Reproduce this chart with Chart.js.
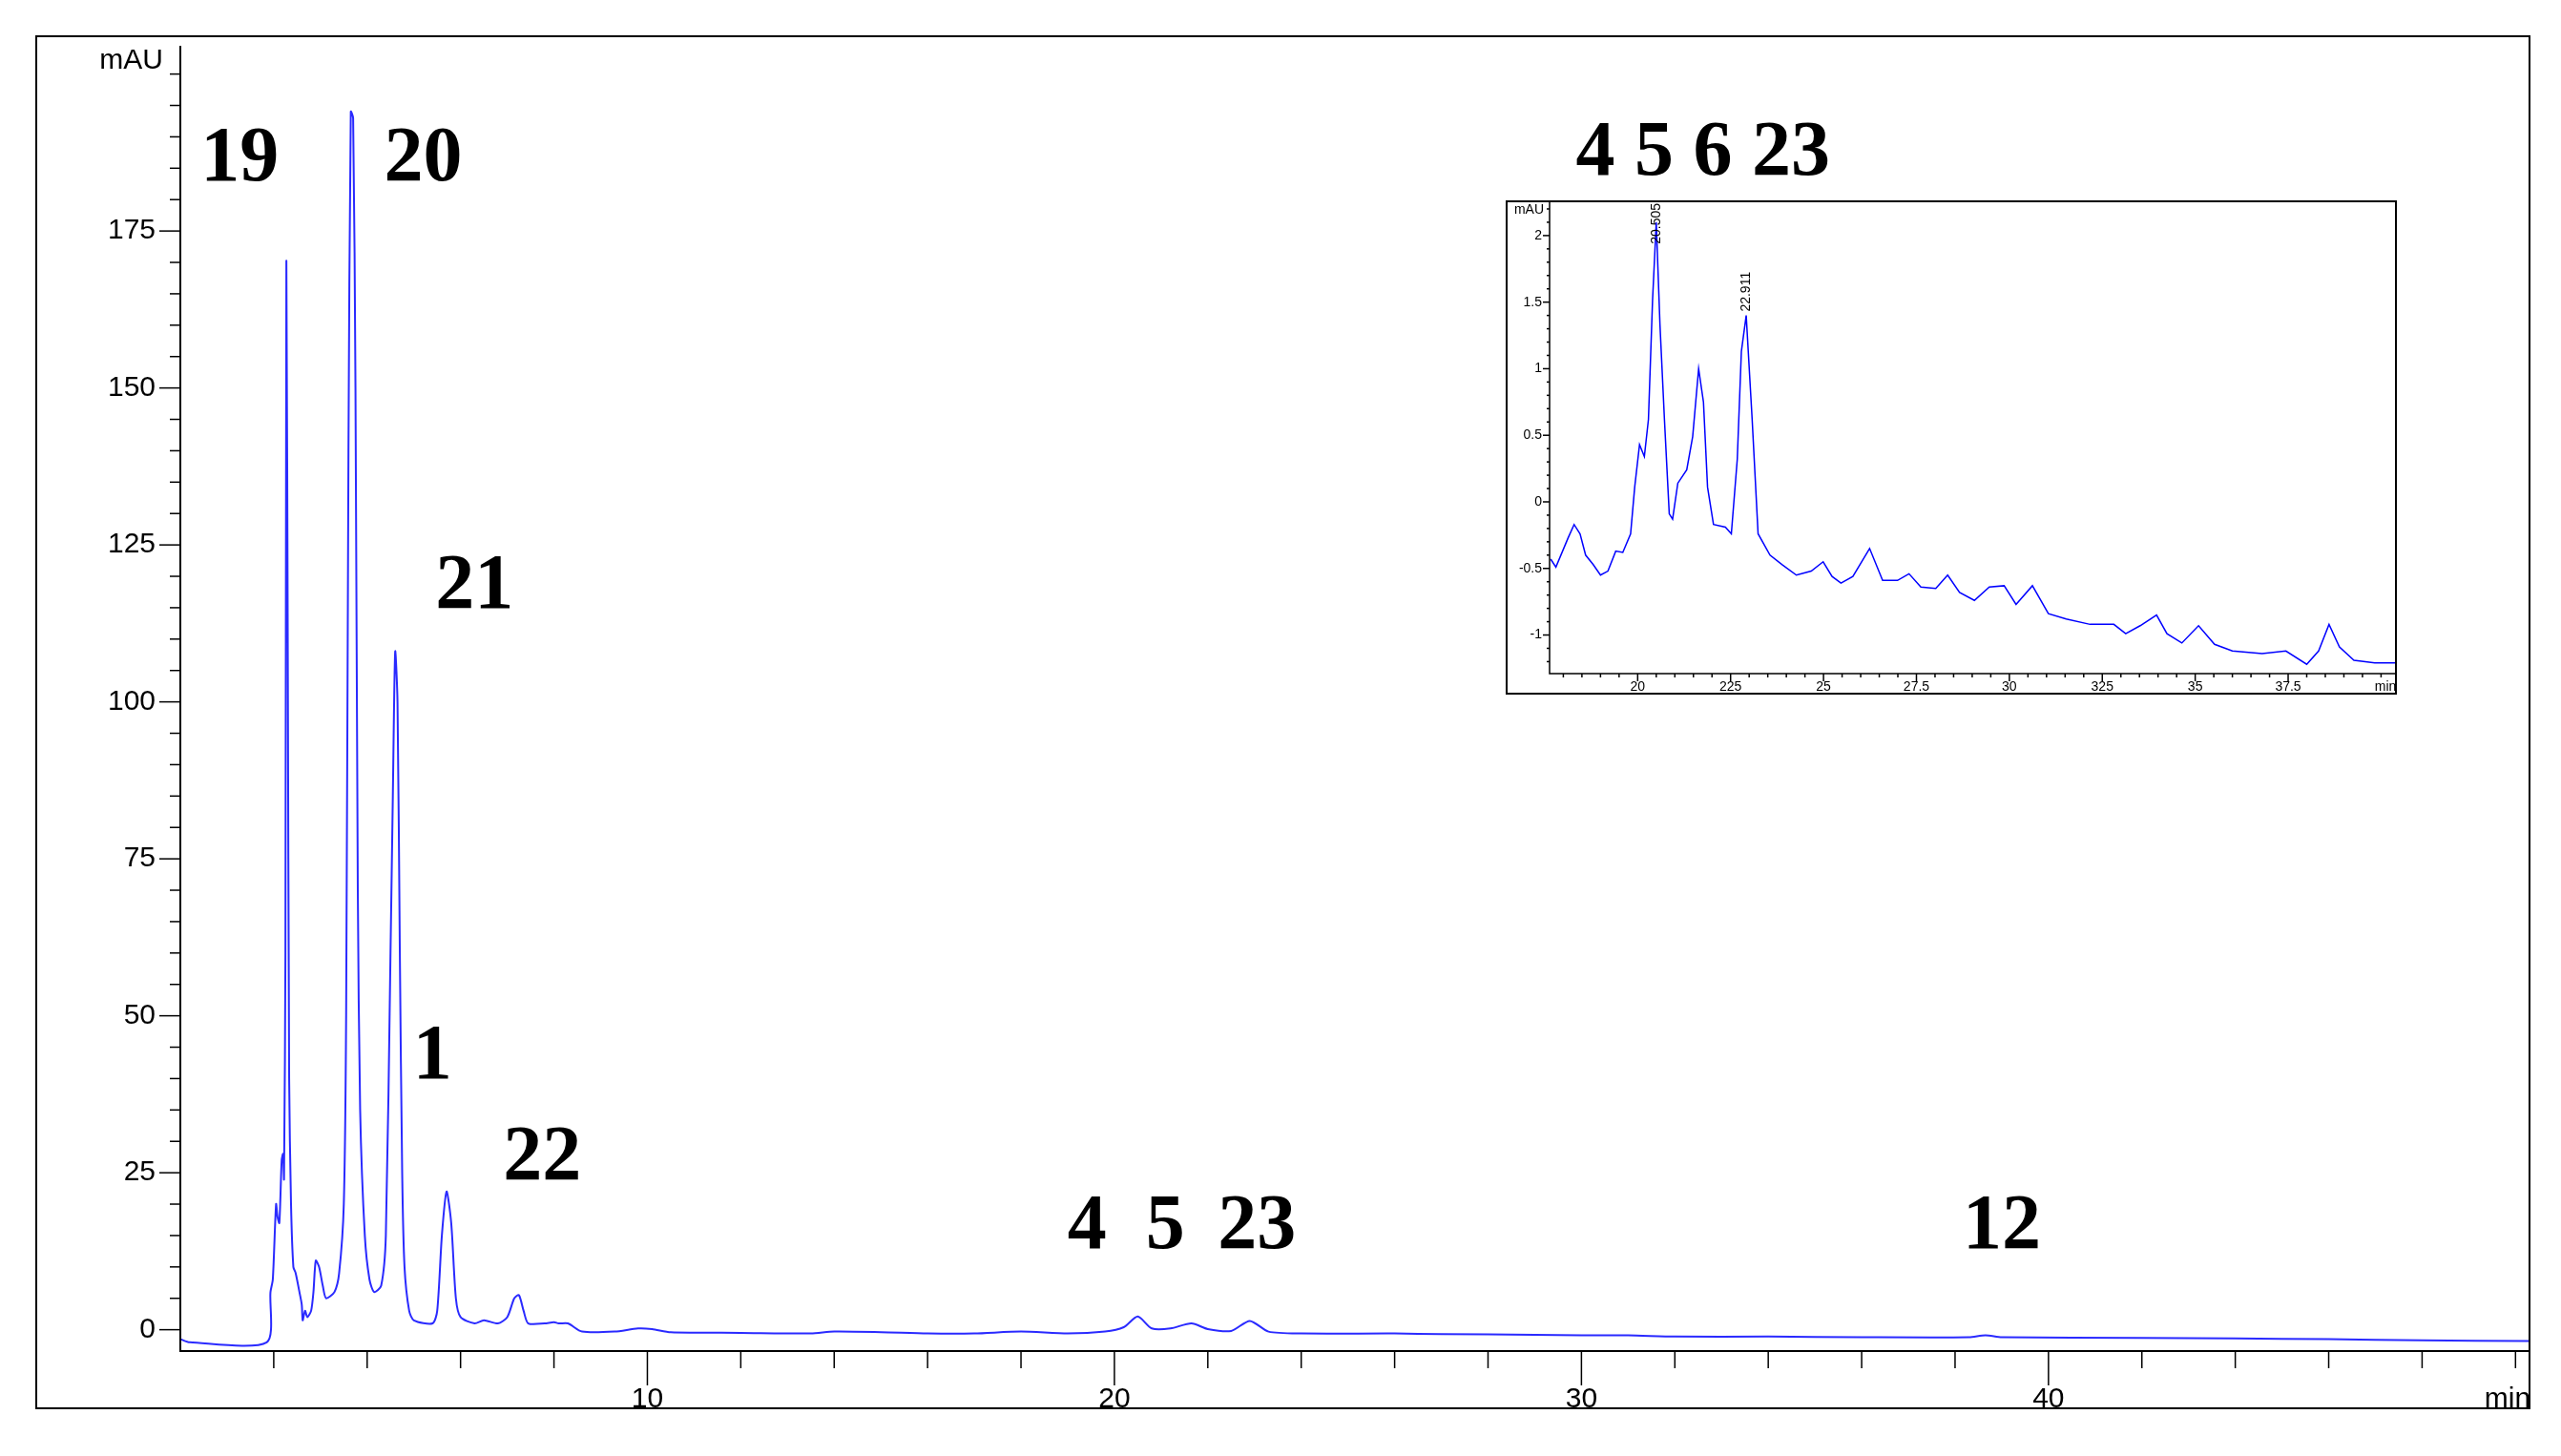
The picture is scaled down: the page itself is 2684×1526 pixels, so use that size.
<!DOCTYPE html>
<html>
<head>
<meta charset="utf-8">
<script src="https://cdn.jsdelivr.net/npm/chart.js@4.4.0/dist/chart.umd.min.js"></script>
<style>
  html, body { margin: 0; padding: 0; background: #fff; }
  #wrap { position: relative; width: 2684px; height: 1526px; }
  #main { position: absolute; left: 0; top: 0; }
  #inset { position: absolute; left: 1578px; top: 210px; background: #fff; }
</style>
</head>
<body>
<div id="wrap">
  <canvas id="main" width="2684" height="1526"></canvas>
  <canvas id="inset" width="934" height="518"></canvas>
</div>
<script>
// main chromatogram (min, mAU)
var mainTimes = [0, 0.2, 1.85, 1.93, 1.98, 2.05, 2.08, 2.12, 2.17, 2.2, 2.22, 2.25, 2.27, 2.3, 2.33, 2.37, 2.42, 2.47, 2.55, 2.6, 2.62, 2.67, 2.72, 2.8, 2.85, 2.9, 2.97, 3.05, 3.12, 3.3, 3.4, 3.5, 3.55, 3.6, 3.65, 3.7, 3.75, 3.8, 3.85, 3.95, 4.05, 4.15, 4.3, 4.4, 4.5, 4.55, 4.6, 4.65, 4.7, 4.75, 4.8, 4.9, 5.0, 5.4, 5.5, 5.6, 5.7, 5.8, 5.9, 6.0, 6.3, 6.5, 6.8, 7.0, 7.15, 7.25, 7.35, 7.45, 7.8, 8.0, 8.1, 8.3, 8.6, 9.3, 9.8, 10.1, 10.5, 12, 13.5, 14, 15, 16, 17, 18, 19, 19.8, 20.2, 20.5, 20.8, 21.2, 21.65, 22.0, 22.5, 22.9, 23.3, 24, 26, 27, 29, 30, 31, 32, 34, 36, 38.3, 38.65, 39, 42, 44, 46, 48, 50.3];
var mainValues = [-1.5, -2, -2, 6, 8, 20, 18, 17, 27, 28, 24, 60, 170, 110, 40, 20, 10, 9, 6, 4, 1.5, 3, 2, 3, 6, 11, 10, 7, 5, 6, 9, 20, 50, 140, 194, 193, 150, 70, 35, 15, 8, 6, 7, 15, 60, 85, 108, 100, 60, 25, 10, 3, 1.5, 1, 3, 15, 22, 17, 5, 2, 1, 1.5, 1, 2, 5, 5.5, 3, 1, 1, 1.2, 1.0, 1.0, -0.3, -0.3, 0.2, 0.1, -0.4, -0.5, -0.6, -0.3, -0.4, -0.6, -0.6, -0.3, -0.6, -0.3, 0.4, 2.1, 0.2, 0.2, 1.0, 0.1, -0.2, 1.4, -0.3, -0.6, -0.6, -0.7, -0.8, -0.9, -0.9, -1.1, -1.1, -1.2, -1.2, -0.9, -1.2, -1.3, -1.4, -1.5, -1.7, -1.8];
var mainXTicks = [10, 20, 30, 40];
var mainYTicks = [0, 25, 50, 75, 100, 125, 150, 175];

// peak numbers on the main chart: [text, min, mAU]
var peakLabels = [['19', 1.27, 183], ['20', 5.2, 183], ['21', 6.3, 115], ['1', 5.4, 40], ['22', 7.75, 24],
  ['4  5', 20.25, 13], ['23', 23.05, 13], ['12', 39.0, 13], ['4 5 6 23', 32.6, 184]];

// inset (zoomed 17.6 - 40.4 min)
var insetTimes = [17.66, 17.8, 18.13, 18.29, 18.45, 18.6, 18.8, 19.0, 19.2, 19.41, 19.6, 19.81, 19.92, 20.05, 20.18, 20.29, 20.4, 20.5, 20.6, 20.72, 20.85, 20.94, 21.08, 21.32, 21.48, 21.64, 21.77, 21.88, 22.04, 22.36, 22.52, 22.68, 22.79, 22.92, 23.08, 23.24, 23.56, 23.88, 24.27, 24.67, 24.99, 25.23, 25.47, 25.79, 26.24, 26.59, 26.99, 27.3, 27.62, 28.02, 28.34, 28.66, 29.06, 29.46, 29.86, 30.18, 30.62, 31.05, 31.53, 32.17, 32.81, 33.13, 33.52, 33.96, 34.24, 34.64, 35.09, 35.52, 36.0, 36.8, 37.44, 38.0, 38.32, 38.6, 38.88, 39.27, 39.83, 40.42];
var insetValues = [-0.43, -0.49, -0.27, -0.17, -0.24, -0.40, -0.47, -0.55, -0.52, -0.37, -0.38, -0.24, 0.11, 0.43, 0.34, 0.62, 1.51, 2.1, 1.33, 0.62, -0.09, -0.13, 0.14, 0.24, 0.49, 1.0, 0.75, 0.11, -0.17, -0.19, -0.24, 0.32, 1.13, 1.4, 0.62, -0.24, -0.40, -0.47, -0.55, -0.52, -0.45, -0.56, -0.61, -0.56, -0.35, -0.59, -0.59, -0.54, -0.64, -0.65, -0.55, -0.68, -0.74, -0.64, -0.63, -0.77, -0.63, -0.84, -0.88, -0.92, -0.92, -0.99, -0.93, -0.85, -0.99, -1.06, -0.93, -1.07, -1.12, -1.14, -1.12, -1.22, -1.12, -0.92, -1.09, -1.19, -1.21, -1.21];
var insetXTicks = [20, 22.5, 25, 27.5, 30, 32.5, 35, 37.5];
var insetXTickText = ['20', '225', '25', '27.5', '30', '325', '35', '37.5'];
var insetYTicks = [-1, -0.5, 0, 0.5, 1, 1.5, 2];
var insetPeakTags = [['20.505', 20.505, 2.1], ['22.911', 22.911, 1.4]];

function pts(t, v) { return t.map(function (x, i) { return { x: x, y: v[i] }; }); }

function range(a, b, s) { var r = []; for (var v = a; v <= b + 1e-9; v += s) r.push(Math.round(v * 100) / 100); return r; }

// draws axis ticks, labels and frame
function axesPlugin(o) {
  return {
    id: 'axes',
    afterDraw: function (chart) {
      var c = chart.ctx, a = chart.chartArea, xs = chart.scales.x, ys = chart.scales.y;
      c.save();
      c.strokeStyle = '#000'; c.fillStyle = '#000'; c.lineWidth = o.lw;
      c.beginPath();
      c.moveTo(a.left, a.top); c.lineTo(a.left, a.bottom); c.lineTo(a.right, a.bottom);
      c.stroke();
      c.lineWidth = 1.5;
      o.xMinor.forEach(function (v) {
        var major = o.xMajor.indexOf(v) >= 0, px = xs.getPixelForValue(v);
        if (px < a.left + 2 || px > a.right + 1) return;
        c.beginPath(); c.moveTo(px, a.bottom); c.lineTo(px, a.bottom + (major ? o.xMajLen : o.xMinLen)); c.stroke();
      });
      o.yMinor.forEach(function (v) {
        var major = o.yMajor.indexOf(v) >= 0, py = ys.getPixelForValue(v);
        if (py < a.top) return;
        c.beginPath(); c.moveTo(a.left, py); c.lineTo(a.left - (major ? o.yMajLen : o.yMinLen), py); c.stroke();
      });
      c.font = o.font;
      c.textAlign = 'center'; c.textBaseline = 'top';
      o.xMajor.forEach(function (v, i) {
        c.fillText(o.xText ? o.xText[i] : String(v), xs.getPixelForValue(v), a.bottom + o.xLabOff);
      });
      c.fillText('min', o.minX, a.bottom + o.xLabOff);
      c.textAlign = 'right'; c.textBaseline = 'middle';
      o.yMajor.forEach(function (v) {
        c.fillText(String(v), a.left - o.yLabOff, ys.getPixelForValue(v));
      });
      c.fillText('mAU', a.left - o.yLabOff + o.mauDx, o.mauY);
      if (o.frame) {
        c.lineWidth = 2;
        c.strokeRect(o.frame[0], o.frame[1], o.frame[2], o.frame[3]);
      }
      if (o.extra) o.extra(chart, c);
      c.restore();
    }
  };
}

function hiddenScales(xmin, xmax, ymin, ymax, yw, xh) {
  return {
    x: { type: 'linear', min: xmin, max: xmax, display: true, grid: { display: false }, border: { display: false }, ticks: { display: false },
      afterFit: function (s) { s.height = xh; } },
    y: { type: 'linear', min: ymin, max: ymax, display: true, grid: { display: false }, border: { display: false }, ticks: { display: false },
      afterFit: function (s) { s.width = yw; } }
  };
}

new Chart(document.getElementById('main'), {
  type: 'line',
  data: { datasets: [{ data: pts(mainTimes, mainValues), borderColor: '#2a2aff', borderWidth: 2, pointRadius: 0, tension: 0.25, fill: false }] },
  options: {
    responsive: false, animation: false, devicePixelRatio: 1,
    layout: { padding: { left: 0, top: 48, right: 33, bottom: 0 } },
    plugins: { legend: { display: false }, tooltip: { enabled: false } },
    scales: hiddenScales(0, 50.3, -3.4, 204.5, 189, 110)
  },
  plugins: [axesPlugin({
    lw: 2, font: '30px "Liberation Sans"',
    xMajor: mainXTicks, xMinor: range(2, 50, 2), xMajLen: 36, xMinLen: 18, xLabOff: 36,
    yMajor: mainYTicks, yMinor: range(0, 200, 5), yMajLen: 22, yMinLen: 11, yLabOff: 26,
    minX: 2628, mauDx: 8, mauY: 64, frame: [38, 38, 2613, 1438],
    extra: function (chart, c) {
      var xs = chart.scales.x, ys = chart.scales.y;
      c.font = 'bold 82px "Liberation Serif"';
      c.textAlign = 'center'; c.textBaseline = 'alphabetic';
      peakLabels.forEach(function (p) { c.fillText(p[0], xs.getPixelForValue(p[1]), ys.getPixelForValue(p[2])); });
    }
  })]
});

new Chart(document.getElementById('inset'), {
  type: 'line',
  data: { datasets: [{ data: pts(insetTimes, insetValues), borderColor: '#0000ff', borderWidth: 1.5, pointRadius: 0, tension: 0, fill: false }] },
  options: {
    responsive: false, animation: false, devicePixelRatio: 1,
    layout: { padding: { left: 0, top: 2, right: 1, bottom: 0 } },
    plugins: { legend: { display: false }, tooltip: { enabled: false } },
    scales: hiddenScales(17.63, 40.4, -1.29, 2.25, 46, 22)
  },
  plugins: [axesPlugin({
    lw: 1.5, font: '14px "Liberation Sans"',
    xMajor: insetXTicks, xText: insetXTickText, xMinor: range(18, 40, 0.5), xMajLen: 8, xMinLen: 4, xLabOff: 7,
    yMajor: insetYTicks, yMinor: range(-1.2, 2.2, 0.1), yMajLen: 7, yMinLen: 3, yLabOff: 8,
    minX: 922, mauDx: 2, mauY: 10, frame: [1, 1, 932, 516],
    extra: function (chart, c) {
      var xs = chart.scales.x, ys = chart.scales.y;
      c.font = '14px "Liberation Sans"';
      c.textAlign = 'left'; c.textBaseline = 'middle';
      insetPeakTags.forEach(function (p) {
        var y = Math.max(ys.getPixelForValue(p[2]) - 4, c.measureText(p[0]).width + 3);
        c.save();
        c.translate(xs.getPixelForValue(p[1]), y);
        c.rotate(-Math.PI / 2);
        c.fillText(p[0], 0, 0);
        c.restore();
      });
    }
  })]
});
</script>
</body>
</html>
